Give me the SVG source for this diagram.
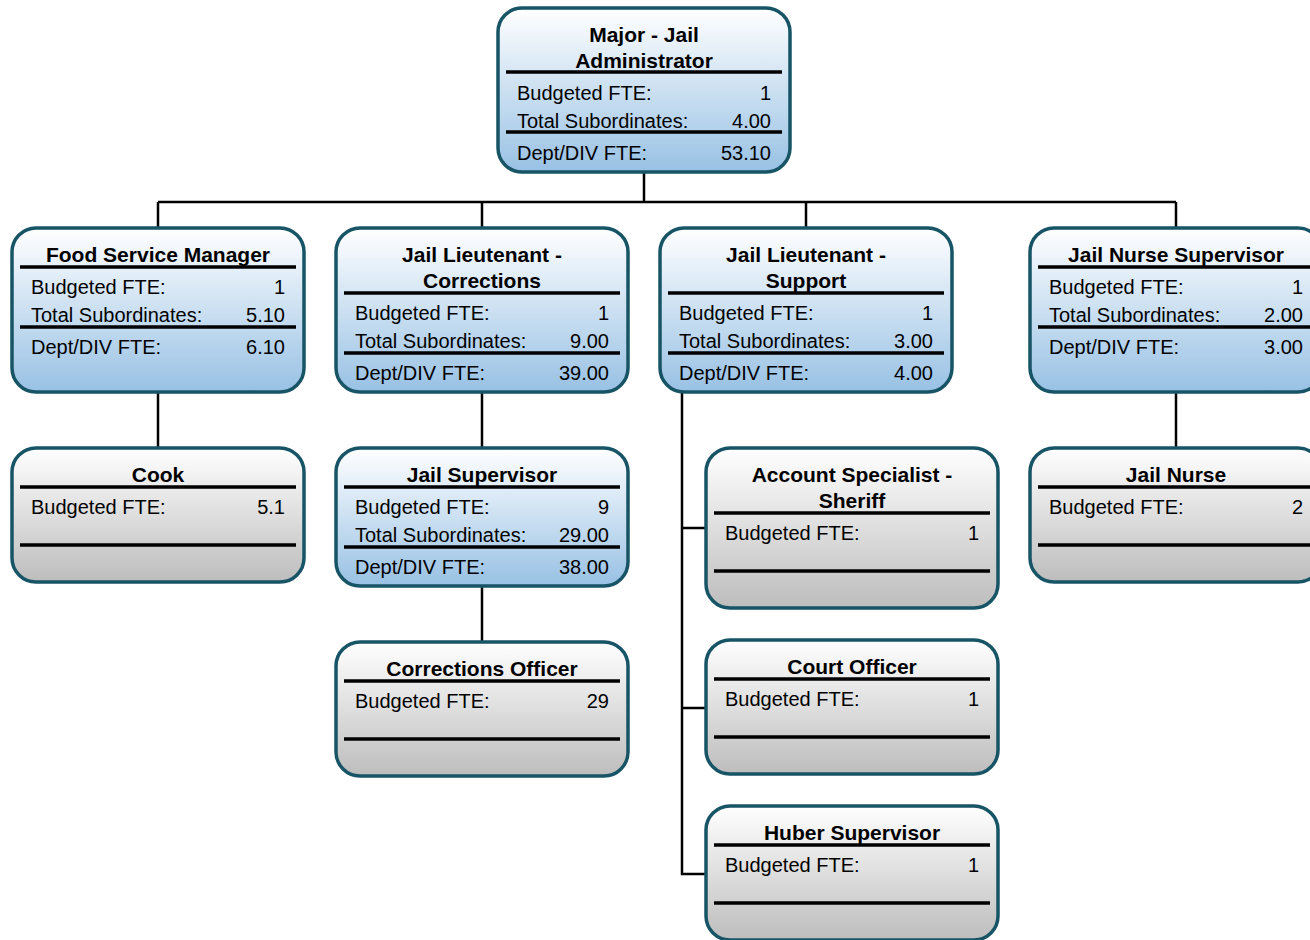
<svg xmlns="http://www.w3.org/2000/svg" width="1310" height="940" viewBox="0 0 1310 940">
<defs>
<linearGradient id="gBlue" x1="0" y1="0" x2="0" y2="1">
<stop offset="0" stop-color="#ffffff"/>
<stop offset="1" stop-color="#98c1e4"/>
</linearGradient>
<linearGradient id="gGray" x1="0" y1="0" x2="0" y2="1">
<stop offset="0" stop-color="#ffffff"/>
<stop offset="1" stop-color="#bdbdbd"/>
</linearGradient>
<style>
.box{stroke:#175466;stroke-width:3.5}
.mgr{fill:url(#gBlue)}
.leaf{fill:url(#gGray)}
.sep{stroke:#000;stroke-width:3.5}
.t{font-family:"Liberation Sans",Arial,sans-serif;font-size:21px;font-weight:bold;text-anchor:middle;fill:#000}
.l{font-family:"Liberation Sans",Arial,sans-serif;font-size:20px;fill:#000}
.v{font-family:"Liberation Sans",Arial,sans-serif;font-size:20px;fill:#000;text-anchor:end}
.c{fill:none;stroke:#000;stroke-width:2.5}
</style>
</defs>
<rect width="1310" height="940" fill="#fff"/>
<g id="connectors">
<path class="c" d="M644 172V202M158 202H1176M158 202V228M482 202V228M806 202V228M1176 202V228"/>
<path class="c" d="M158 392V448"/>
<path class="c" d="M482 392V448M482 586V642"/>
<path class="c" d="M682 392V874H706M682 528H706M682 708H706"/>
<path class="c" d="M1176 392V448"/>
</g>
<g id="n-major">
<rect class="box mgr" x="498" y="8" width="292" height="164" rx="24"/>
<text class="t" x="644" y="42">Major - Jail</text>
<text class="t" x="644" y="68">Administrator</text>
<line class="sep" x1="506" y1="72" x2="782" y2="72"/>
<text class="l" x="517" y="100">Budgeted FTE:</text><text class="v" x="771" y="100">1</text>
<text class="l" x="517" y="128">Total Subordinates:</text><text class="v" x="771" y="128">4.00</text>
<line class="sep" x1="506" y1="132" x2="782" y2="132"/>
<text class="l" x="517" y="160">Dept/DIV FTE:</text><text class="v" x="771" y="160">53.10</text>
</g>
<g id="n-food">
<rect class="box mgr" x="12" y="228" width="292" height="164" rx="24"/>
<text class="t" x="158" y="262">Food Service Manager</text>
<line class="sep" x1="20" y1="267" x2="296" y2="267"/>
<text class="l" x="31" y="294">Budgeted FTE:</text><text class="v" x="285" y="294">1</text>
<text class="l" x="31" y="322">Total Subordinates:</text><text class="v" x="285" y="322">5.10</text>
<line class="sep" x1="20" y1="327" x2="296" y2="327"/>
<text class="l" x="31" y="354">Dept/DIV FTE:</text><text class="v" x="285" y="354">6.10</text>
</g>
<g id="n-ltcorr">
<rect class="box mgr" x="336" y="228" width="292" height="164" rx="24"/>
<text class="t" x="482" y="262">Jail Lieutenant -</text>
<text class="t" x="482" y="288">Corrections</text>
<line class="sep" x1="344" y1="293" x2="620" y2="293"/>
<text class="l" x="355" y="320">Budgeted FTE:</text><text class="v" x="609" y="320">1</text>
<text class="l" x="355" y="348">Total Subordinates:</text><text class="v" x="609" y="348">9.00</text>
<line class="sep" x1="344" y1="353" x2="620" y2="353"/>
<text class="l" x="355" y="380">Dept/DIV FTE:</text><text class="v" x="609" y="380">39.00</text>
</g>
<g id="n-ltsupp">
<rect class="box mgr" x="660" y="228" width="292" height="164" rx="24"/>
<text class="t" x="806" y="262">Jail Lieutenant -</text>
<text class="t" x="806" y="288">Support</text>
<line class="sep" x1="668" y1="293" x2="944" y2="293"/>
<text class="l" x="679" y="320">Budgeted FTE:</text><text class="v" x="933" y="320">1</text>
<text class="l" x="679" y="348">Total Subordinates:</text><text class="v" x="933" y="348">3.00</text>
<line class="sep" x1="668" y1="353" x2="944" y2="353"/>
<text class="l" x="679" y="380">Dept/DIV FTE:</text><text class="v" x="933" y="380">4.00</text>
</g>
<g id="n-nursesup">
<rect class="box mgr" x="1030" y="228" width="292" height="164" rx="24"/>
<text class="t" x="1176" y="262">Jail Nurse Supervisor</text>
<line class="sep" x1="1038" y1="267" x2="1314" y2="267"/>
<text class="l" x="1049" y="294">Budgeted FTE:</text><text class="v" x="1303" y="294">1</text>
<text class="l" x="1049" y="322">Total Subordinates:</text><text class="v" x="1303" y="322">2.00</text>
<line class="sep" x1="1038" y1="327" x2="1314" y2="327"/>
<text class="l" x="1049" y="354">Dept/DIV FTE:</text><text class="v" x="1303" y="354">3.00</text>
</g>
<g id="n-cook">
<rect class="box leaf" x="12" y="448" width="292" height="134" rx="24"/>
<text class="t" x="158" y="482">Cook</text>
<line class="sep" x1="20" y1="487" x2="296" y2="487"/>
<text class="l" x="31" y="514">Budgeted FTE:</text><text class="v" x="285" y="514">5.1</text>
<line class="sep" x1="20" y1="545" x2="296" y2="545"/>
</g>
<g id="n-jailsup">
<rect class="box mgr" x="336" y="448" width="292" height="138" rx="24"/>
<text class="t" x="482" y="482">Jail Supervisor</text>
<line class="sep" x1="344" y1="487" x2="620" y2="487"/>
<text class="l" x="355" y="514">Budgeted FTE:</text><text class="v" x="609" y="514">9</text>
<text class="l" x="355" y="542">Total Subordinates:</text><text class="v" x="609" y="542">29.00</text>
<line class="sep" x1="344" y1="547" x2="620" y2="547"/>
<text class="l" x="355" y="574">Dept/DIV FTE:</text><text class="v" x="609" y="574">38.00</text>
</g>
<g id="n-acct">
<rect class="box leaf" x="706" y="448" width="292" height="160" rx="24"/>
<text class="t" x="852" y="482">Account Specialist -</text>
<text class="t" x="852" y="508">Sheriff</text>
<line class="sep" x1="714" y1="513" x2="990" y2="513"/>
<text class="l" x="725" y="540">Budgeted FTE:</text><text class="v" x="979" y="540">1</text>
<line class="sep" x1="714" y1="571" x2="990" y2="571"/>
</g>
<g id="n-nurse">
<rect class="box leaf" x="1030" y="448" width="292" height="134" rx="24"/>
<text class="t" x="1176" y="482">Jail Nurse</text>
<line class="sep" x1="1038" y1="487" x2="1314" y2="487"/>
<text class="l" x="1049" y="514">Budgeted FTE:</text><text class="v" x="1303" y="514">2</text>
<line class="sep" x1="1038" y1="545" x2="1314" y2="545"/>
</g>
<g id="n-corroff">
<rect class="box leaf" x="336" y="642" width="292" height="134" rx="24"/>
<text class="t" x="482" y="676">Corrections Officer</text>
<line class="sep" x1="344" y1="681" x2="620" y2="681"/>
<text class="l" x="355" y="708">Budgeted FTE:</text><text class="v" x="609" y="708">29</text>
<line class="sep" x1="344" y1="739" x2="620" y2="739"/>
</g>
<g id="n-court">
<rect class="box leaf" x="706" y="640" width="292" height="134" rx="24"/>
<text class="t" x="852" y="674">Court Officer</text>
<line class="sep" x1="714" y1="679" x2="990" y2="679"/>
<text class="l" x="725" y="706">Budgeted FTE:</text><text class="v" x="979" y="706">1</text>
<line class="sep" x1="714" y1="737" x2="990" y2="737"/>
</g>
<g id="n-huber">
<rect class="box leaf" x="706" y="806" width="292" height="134" rx="24"/>
<text class="t" x="852" y="840">Huber Supervisor</text>
<line class="sep" x1="714" y1="845" x2="990" y2="845"/>
<text class="l" x="725" y="872">Budgeted FTE:</text><text class="v" x="979" y="872">1</text>
<line class="sep" x1="714" y1="903" x2="990" y2="903"/>
</g>
</svg>
